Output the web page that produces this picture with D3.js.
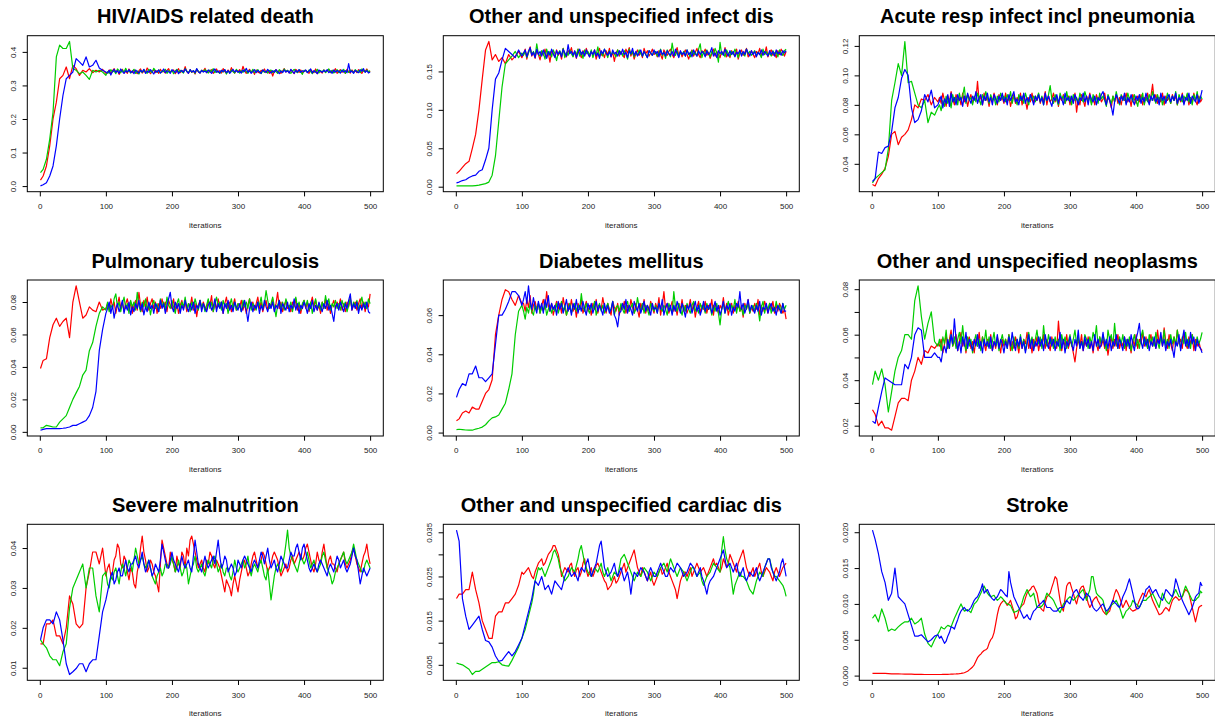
<!DOCTYPE html>
<html><head><meta charset="utf-8">
<script src="https://cdn.jsdelivr.net/npm/d3@7"></script>
<style>body{margin:0;background:#fff}svg{display:block}text{font-family:"Liberation Sans",Arial,Helvetica,sans-serif}</style>
</head><body>
<svg id="c" width="1215" height="721"></svg>
<script>
// iteration index of every stored draw: 1,5,...,100 then every 2.5 up to 500
const iterations = [1].concat(d3.range(5, 101, 5), d3.range(102.5, 500.1, 2.5));
const titles = ["HIV/AIDS related death","Other and unspecified infect dis","Acute resp infect incl pneumonia","Pulmonary tuberculosis","Diabetes mellitus","Other and unspecified neoplasms","Severe malnutrition","Other and unspecified cardiac dis","Stroke"];
const xTicks = [0,100,200,300,400,500];
const xLabel = "iterations";

// HIV/AIDS related death
const hivRed = [.018,.03,.06,.12,.2,.25,.32,.33,.355,.32,.36,.35,.33,.345,.34,.35,.338,.345,.34,.348,.336,
.338,.346,.335,.344,.350,.339,.345,.333,.341,.348,.337,.343,.336,.349,.342,.338,.346,.340,.335,.344,
.349,.337,.343,.339,.352,.345,.335,.341,.347,.338,.344,.336,.348,.340,.343,.337,.345,.350,.339,.342,
.346,.335,.342,.350,.338,.344,.340,.356,.341,.336,.347,.339,.343,.334,.348,.341,.337,.345,.343,.351,
.338,.345,.340,.347,.336,.342,.349,.339,.344,.337,.350,.341,.336,.346,.339,.353,.343,.337,.345,.341,
.347,.338,.357,.344,.336,.342,.348,.339,.344,.333,.346,.340,.337,.345,.341,.349,.338,.343,.336,.344,
.328,.342,.347,.339,.345,.336,.343,.350,.340,.345,.337,.346,.341,.335,.348,.343,.339,.346,.338,.342,
.345,.340,.336,.347,.342,.338,.349,.335,.344,.341,.337,.346,.340,.343,.348,.338,.345,.341,.350,.336,
.343,.347,.339,.344,.336,.348,.341,.337,.346,.340,.344,.338,.347,.341,.336,.345,.342,.349,.339,.343];
const hivGreen = [.04,.05,.08,.14,.22,.385,.42,.41,.41,.431,.35,.345,.335,.34,.33,.318,.345,.34,.345,.34,.33,
.341,.336,.347,.340,.343,.335,.349,.344,.338,.346,.339,.351,.340,.345,.337,.342,.348,.336,.343,.334,
.345,.339,.347,.341,.336,.348,.342,.338,.351,.344,.339,.346,.337,.343,.341,.348,.336,.344,.340,.345,
.335,.343,.348,.339,.345,.341,.337,.350,.342,.338,.346,.340,.344,.336,.349,.342,.338,.345,.341,.347,
.343,.337,.346,.341,.350,.338,.344,.340,.336,.345,.340,.347,.334,.343,.339,.346,.341,.337,.348,.342,
.337,.344,.339,.347,.342,.336,.345,.340,.348,.338,.343,.347,.340,.335,.346,.339,.343,.337,.344,.346,
.338,.344,.341,.336,.347,.343,.339,.349,.342,.345,.340,.336,.343,.348,.342,.338,.347,.340,.333,.345,
.344,.339,.346,.341,.335,.343,.340,.348,.337,.344,.341,.346,.338,.343,.349,.339,.345,.337,.342,.347,
.338,.345,.341,.348,.336,.344,.339,.346,.342,.338,.347,.341,.344,.338,.349,.343,.340,.346,.341,.344];
const hivBlue = [.0005,.004,.01,.03,.06,.12,.2,.27,.32,.33,.34,.38,.37,.36,.385,.355,.36,.375,.352,.345,.34,
.337,.345,.331,.342,.348,.339,.344,.336,.349,.341,.336,.344,.340,.347,.338,.343,.335,.346,.341,.337,
.345,.340,.348,.336,.343,.339,.347,.341,.334,.344,.340,.346,.337,.342,.349,.338,.344,.341,.336,.347,
.343,.338,.346,.335,.341,.345,.339,.349,.342,.336,.347,.340,.344,.338,.350,.341,.337,.345,.340,.343,
.338,.346,.341,.336,.344,.349,.339,.343,.337,.345,.341,.347,.338,.344,.336,.342,.348,.340,.345,.339,
.343,.337,.346,.341,.351,.339,.344,.336,.342,.347,.338,.345,.340,.336,.346,.342,.339,.348,.341,.337,
.344,.339,.347,.341,.335,.343,.338,.346,.340,.344,.337,.348,.342,.336,.345,.340,.347,.339,.344,.341,
.346,.338,.343,.349,.337,.344,.340,.335,.346,.342,.339,.345,.341,.347,.338,.343,.336,.346,.340,.344,
.342,.337,.346,.340,.344,.338,.365,.339,.343,.336,.345,.341,.338,.347,.342,.350,.339,.344,.337,.340];

// Other and unspecified infect dis
const infRed = [.017,.02,.025,.03,.033,.05,.068,.1,.14,.178,.189,.165,.172,.163,.168,.16,.172,.165,.17,.176,.168,
.172,.179,.166,.176,.182,.170,.175,.167,.178,.172,.165,.176,.171,.179,.168,.174,.162,.177,.173,.169,
.178,.171,.175,.166,.180,.172,.169,.177,.174,.181,.170,.176,.167,.179,.173,.168,.177,.171,.180,.174,
.169,.176,.172,.178,.166,.174,.180,.171,.175,.168,.177,.172,.180,.169,.175,.163,.174,.178,.170,.176,
.172,.168,.179,.174,.181,.170,.176,.166,.173,.178,.171,.175,.168,.180,.173,.177,.170,.174,.179,.172,
.175,.169,.177,.172,.166,.178,.174,.171,.176,.179,.172,.168,.175,.181,.171,.176,.169,.174,.178,.172,
.166,.173,.178,.170,.175,.180,.172,.168,.177,.174,.179,.171,.175,.167,.173,.179,.170,.176,.172,.168,
.176,.172,.181,.169,.174,.168,.177,.173,.170,.179,.166,.174,.178,.171,.175,.180,.169,.173,.177,.172,
.168,.176,.173,.180,.170,.177,.172,.182,.169,.175,.178,.171,.174,.168,.177,.172,.179,.175,.170,.176];
const infGreen = [.001,.001,.001,.001,.001,.001,.0015,.002,.003,.004,.006,.015,.04,.085,.13,.16,.165,.17,.176,.168,.174,
.171,.177,.168,.174,.180,.172,.176,.169,.186,.173,.170,.177,.174,.166,.179,.172,.176,.169,.178,.173,
.164,.174,.177,.170,.180,.168,.175,.171,.178,.173,.169,.176,.172,.179,.170,.175,.167,.178,.173,.176,
.171,.178,.168,.175,.172,.182,.169,.176,.170,.179,.174,.168,.177,.171,.175,.173,.169,.178,.172,.176,
.170,.177,.173,.166,.179,.172,.176,.169,.175,.171,.178,.173,.170,.176,.172,.168,.177,.174,.171,.175,
.176,.170,.174,.179,.171,.175,.167,.178,.173,.169,.187,.174,.171,.177,.169,.175,.172,.176,.170,.178,
.173,.169,.177,.172,.175,.170,.179,.186,.168,.176,.171,.178,.173,.169,.176,.172,.180,.174,.162,.188,
.172,.175,.169,.178,.173,.170,.176,.172,.179,.174,.168,.177,.172,.175,.170,.179,.173,.176,.171,.174,
.177,.170,.175,.173,.168,.179,.172,.176,.171,.174,.170,.177,.173,.175,.169,.178,.174,.171,.177,.179];
const infBlue = [.005,.006,.008,.009,.012,.014,.015,.02,.022,.035,.05,.1,.14,.148,.165,.18,.176,.172,.168,.178,.17,
.174,.178,.169,.176,.181,.171,.175,.168,.179,.172,.176,.170,.178,.173,.167,.176,.171,.179,.173,.168,
.177,.172,.176,.169,.179,.174,.170,.185,.173,.176,.171,.177,.168,.174,.179,.172,.176,.170,.178,.173,
.169,.176,.172,.178,.170,.174,.167,.177,.173,.179,.174,.171,.176,.169,.178,.173,.175,.170,.177,.172,
.179,.172,.175,.168,.177,.173,.180,.171,.176,.170,.174,.178,.170,.176,.172,.168,.177,.174,.171,.178,
.173,.176,.169,.178,.172,.175,.170,.177,.173,.171,.176,.170,.179,.174,.168,.177,.172,.175,.170,.178,
.172,.175,.169,.178,.173,.170,.177,.172,.176,.174,.169,.177,.172,.175,.181,.170,.174,.168,.177,.173,
.176,.171,.179,.174,.170,.177,.172,.176,.169,.175,.173,.178,.170,.176,.172,.179,.174,.170,.177,.172,
.176,.169,.175,.172,.178,.171,.176,.173,.170,.177,.172,.176,.170,.178,.173,.175,.171,.177,.174,.177];

// Acute resp infect incl pneumonia
const arRed = [.026,.025,.03,.033,.037,.045,.06,.062,.053,.058,.06,.063,.07,.08,.078,.084,.083,.087,.08,.085,.082,
.085,.081,.088,.083,.079,.086,.082,.089,.084,.080,.087,.083,.085,.080,.088,.082,.086,.079,.084,.087,
.081,.085,.083,.096,.082,.086,.080,.088,.083,.085,.079,.086,.082,.088,.084,.080,.087,.083,.085,.081,
.088,.082,.086,.079,.084,.087,.081,.085,.083,.088,.080,.086,.083,.077,.085,.082,.088,.081,.086,.083,
.087,.081,.085,.083,.089,.080,.086,.082,.084,.088,.082,.086,.079,.085,.083,.087,.081,.084,.086,.080,
.085,.082,.088,.075,.084,.080,.087,.083,.079,.086,.083,.088,.081,.085,.080,.087,.083,.086,.082,.084,
.088,.081,.085,.083,.078,.086,.082,.087,.081,.085,.080,.086,.083,.088,.082,.085,.079,.087,.084,.081,
.086,.082,.087,.080,.085,.083,.088,.081,.086,.094,.083,.087,.081,.085,.082,.088,.080,.086,.083,.085,
.081,.087,.083,.086,.080,.085,.082,.088,.081,.084,.087,.080,.085,.082,.088,.083,.080,.086,.082,.084];
const arGreen = [.027,.03,.032,.034,.036,.05,.083,.095,.108,.1,.123,.095,.096,.088,.08,.078,.083,.068,.075,.073,.078,
.080,.076,.083,.079,.086,.081,.084,.078,.087,.082,.085,.080,.088,.083,.086,.092,.081,.087,.083,.085,
.080,.086,.082,.088,.084,.080,.087,.083,.089,.085,.081,.087,.083,.085,.080,.086,.082,.088,.084,.086,
.082,.087,.083,.089,.081,.086,.084,.080,.087,.083,.086,.081,.088,.084,.080,.087,.083,.086,.082,.085,
.088,.082,.086,.080,.085,.083,.087,.093,.084,.081,.087,.083,.080,.088,.084,.086,.081,.089,.083,.086,
.080,.087,.083,.085,.081,.088,.084,.082,.089,.085,.082,.086,.080,.087,.083,.085,.081,.088,.084,.086,
.083,.079,.087,.084,.081,.086,.082,.089,.084,.080,.087,.083,.085,.081,.088,.084,.086,.082,.087,.083,
.079,.086,.083,.088,.080,.085,.082,.087,.083,.089,.084,.081,.087,.083,.086,.080,.085,.082,.088,.084,
.081,.086,.083,.089,.080,.087,.084,.082,.086,.083,.088,.082,.085,.080,.087,.083,.089,.082,.086,.084];
const arBlue = [.028,.03,.048,.047,.051,.052,.062,.078,.085,.098,.104,.1,.078,.068,.07,.076,.087,.082,.09,.078,.08,
.083,.086,.078,.084,.081,.087,.079,.088,.082,.085,.080,.087,.083,.085,.079,.086,.082,.088,.084,.081,
.086,.083,.089,.081,.085,.087,.080,.086,.083,.088,.082,.085,.080,.087,.084,.081,.086,.083,.088,.082,
.085,.080,.087,.083,.086,.089,.082,.084,.080,.086,.083,.088,.081,.085,.082,.087,.084,.080,.086,.083,
.087,.082,.085,.080,.088,.083,.086,.082,.079,.085,.083,.087,.081,.086,.084,.080,.088,.083,.085,.082,
.086,.081,.087,.084,.080,.085,.083,.088,.082,.086,.080,.087,.084,.082,.086,.080,.085,.083,.087,.089,
.084,.080,.086,.083,.079,.073,.082,.087,.084,.081,.086,.083,.088,.080,.085,.082,.087,.083,.080,.086,
.083,.087,.081,.085,.082,.088,.084,.080,.086,.083,.087,.082,.085,.080,.088,.083,.086,.081,.085,.087,
.082,.086,.083,.088,.081,.085,.083,.087,.080,.085,.083,.088,.081,.086,.084,.082,.087,.081,.085,.090];

// Pulmonary tuberculosis
const tbRed = [.039,.044,.045,.058,.066,.07,.065,.068,.07,.058,.08,.09,.08,.07,.072,.077,.075,.074,.08,.075,.076,
.079,.075,.082,.077,.080,.073,.078,.083,.076,.080,.074,.079,.082,.076,.080,.073,.078,.081,.075,.086,
.078,.074,.081,.077,.083,.075,.079,.082,.076,.080,.073,.079,.076,.082,.077,.080,.074,.081,.078,.076,
.082,.075,.079,.073,.078,.081,.076,.080,.074,.079,.077,.083,.075,.079,.071,.078,.081,.076,.080,.077,
.075,.081,.078,.084,.074,.079,.076,.082,.077,.080,.073,.079,.083,.076,.080,.074,.078,.082,.075,.079,
.077,.081,.075,.079,.073,.078,.082,.076,.080,.075,.079,.083,.076,.080,.074,.078,.081,.075,.079,.077,
.082,.075,.079,.086,.076,.080,.074,.078,.081,.076,.078,.074,.080,.077,.082,.075,.079,.073,.078,.081,
.076,.080,.074,.079,.083,.077,.081,.075,.078,.073,.080,.076,.082,.075,.079,.073,.078,.081,.076,.080,
.077,.082,.075,.079,.074,.080,.077,.083,.075,.078,.080,.075,.079,.082,.076,.080,.074,.079,.077,.085];
const tbGreen = [.0025,.0025,.004,.0035,.003,.003,.006,.008,.01,.015,.02,.024,.028,.035,.038,.05,.055,.065,.073,.077,.075,
.080,.074,.078,.076,.082,.085,.077,.080,.074,.079,.083,.076,.079,.073,.081,.077,.080,.075,.086,.078,
.074,.080,.077,.082,.075,.079,.072,.078,.081,.076,.079,.074,.082,.077,.080,.075,.083,.078,.076,.081,
.077,.073,.079,.082,.075,.080,.077,.083,.076,.079,.074,.080,.076,.082,.078,.075,.081,.077,.079,.074,
.078,.082,.076,.080,.074,.079,.083,.077,.080,.075,.081,.077,.079,.073,.078,.082,.076,.080,.075,.079,
.078,.074,.081,.077,.080,.076,.082,.075,.079,.077,.075,.080,.078,.083,.076,.079,.087,.081,.076,.079,
.083,.077,.071,.078,.081,.076,.080,.075,.082,.078,.076,.080,.074,.079,.083,.077,.080,.075,.079,.081,
.077,.081,.075,.080,.073,.078,.082,.076,.079,.075,.080,.076,.084,.078,.082,.075,.079,.077,.081,.076,
.079,.075,.081,.077,.080,.074,.078,.082,.076,.080,.077,.081,.075,.079,.083,.077,.080,.076,.082,.079];
const tbBlue = [.001,.0015,.002,.002,.002,.002,.002,.0022,.0025,.003,.004,.004,.005,.006,.007,.01,.015,.025,.05,.063,.073,
.076,.080,.073,.078,.070,.076,.079,.074,.077,.081,.073,.078,.075,.080,.072,.077,.074,.079,.076,.081,
.075,.079,.072,.077,.074,.080,.076,.078,.073,.079,.077,.074,.081,.076,.079,.073,.078,.082,.086,.077,
.074,.080,.076,.079,.073,.078,.075,.081,.077,.074,.079,.075,.080,.073,.078,.076,.081,.074,.079,.076,
.074,.078,.080,.075,.077,.082,.074,.079,.076,.080,.073,.079,.076,.081,.075,.078,.074,.080,.077,.075,
.079,.074,.077,.081,.075,.068,.076,.080,.074,.078,.076,.080,.073,.078,.075,.081,.077,.074,.079,.076,
.080,.074,.078,.076,.081,.073,.079,.077,.075,.080,.074,.078,.076,.082,.075,.079,.073,.078,.076,.080,
.077,.073,.079,.076,.081,.074,.078,.075,.080,.077,.074,.079,.076,.081,.075,.078,.073,.068,.077,.079,
.075,.080,.077,.074,.079,.076,.081,.085,.075,.079,.076,.080,.073,.078,.075,.079,.076,.080,.074,.073];

// Diabetes mellitus
const dmRed = [.006,.007,.01,.011,.01,.013,.012,.012,.016,.02,.022,.027,.05,.06,.068,.073,.072,.068,.065,.07,.066,
.066,.062,.068,.064,.070,.061,.065,.067,.063,.066,.061,.065,.068,.063,.072,.065,.062,.066,.060,.064,
.067,.063,.066,.061,.069,.064,.060,.066,.063,.068,.062,.065,.059,.066,.063,.068,.061,.064,.067,.062,
.065,.060,.066,.063,.068,.061,.065,.063,.069,.064,.061,.066,.063,.060,.067,.064,.062,.066,.060,.065,
.063,.067,.061,.065,.062,.068,.064,.061,.066,.063,.059,.066,.063,.068,.061,.065,.062,.067,.064,.061,
.066,.063,.069,.060,.065,.072,.063,.066,.061,.064,.067,.062,.065,.060,.066,.063,.068,.062,.065,.061,
.064,.068,.062,.066,.059,.064,.067,.061,.065,.063,.067,.061,.065,.063,.068,.060,.066,.064,.061,.065,
.063,.069,.062,.066,.060,.064,.066,.061,.065,.063,.067,.062,.065,.059,.066,.063,.068,.061,.064,.062,
.066,.063,.068,.060,.065,.062,.067,.064,.061,.066,.063,.067,.061,.065,.062,.066,.064,.061,.063,.058];
const dmGreen = [.0015,.0017,.0015,.0013,.0012,.0012,.0018,.0022,.0028,.004,.006,.0075,.008,.009,.012,.015,.022,.03,.05,.062,.065,
.062,.058,.064,.061,.066,.062,.060,.065,.063,.066,.061,.064,.062,.066,.060,.063,.065,.061,.064,.062,
.066,.061,.064,.067,.062,.065,.060,.063,.066,.061,.064,.066,.062,.065,.063,.071,.064,.062,.066,.063,
.061,.065,.063,.067,.060,.064,.066,.062,.065,.061,.064,.066,.062,.063,.067,.060,.064,.065,.062,.066,
.063,.061,.065,.067,.062,.064,.066,.061,.063,.069,.064,.062,.066,.061,.065,.063,.060,.066,.064,.062,
.065,.061,.066,.064,.062,.065,.063,.060,.066,.063,.061,.072,.064,.062,.066,.063,.060,.065,.062,.066,
.063,.061,.065,.067,.062,.064,.061,.066,.063,.065,.061,.066,.063,.064,.060,.065,.062,.066,.061,.055,
.063,.066,.061,.064,.067,.062,.065,.063,.068,.061,.066,.062,.064,.060,.065,.063,.066,.061,.064,.065,
.062,.066,.063,.057,.064,.067,.061,.065,.063,.066,.061,.064,.062,.067,.063,.065,.061,.066,.063,.065];
const dmBlue = [.018,.022,.025,.024,.03,.03,.034,.028,.028,.026,.028,.03,.045,.06,.06,.063,.067,.072,.072,.07,.065,
.068,.072,.066,.075,.067,.063,.069,.064,.061,.067,.063,.066,.061,.068,.064,.070,.062,.066,.063,.065,
.060,.067,.063,.066,.061,.064,.068,.062,.065,.060,.066,.063,.068,.061,.065,.062,.067,.063,.060,.066,
.063,.066,.061,.064,.067,.062,.065,.063,.060,.066,.062,.065,.061,.063,.067,.060,.058,.054,.061,.062,
.066,.063,.068,.061,.065,.063,.060,.067,.064,.062,.066,.061,.064,.067,.062,.065,.063,.060,.066,.063,
.064,.061,.066,.063,.068,.060,.064,.066,.062,.065,.060,.065,.062,.067,.064,.061,.066,.063,.059,.065,
.063,.066,.061,.064,.067,.062,.065,.060,.063,.067,.062,.065,.063,.066,.061,.064,.067,.062,.065,.060,
.063,.067,.061,.065,.063,.066,.060,.064,.062,.066,.064,.072,.063,.066,.061,.064,.068,.062,.065,.063,
.061,.065,.062,.067,.060,.064,.063,.066,.061,.064,.066,.062,.064,.060,.065,.063,.061,.066,.062,.062];

// Other and unspecified neoplasms
const neoRed = [.027,.025,.02,.022,.019,.019,.018,.024,.03,.032,.032,.031,.04,.044,.05,.047,.053,.052,.055,.054,.056,
.055,.058,.052,.056,.060,.054,.058,.062,.055,.057,.060,.053,.057,.061,.055,.058,.052,.057,.059,.054,
.057,.052,.058,.055,.061,.054,.059,.056,.053,.058,.055,.060,.053,.057,.054,.059,.056,.052,.058,.055,
.058,.055,.060,.053,.057,.054,.059,.056,.052,.058,.054,.058,.056,.061,.054,.057,.052,.058,.055,.059,
.053,.057,.055,.060,.054,.058,.056,.053,.059,.055,.058,.054,.066,.057,.053,.058,.055,.060,.054,.057,
.056,.052,.048,.054,.058,.055,.060,.053,.057,.055,.059,.054,.057,.052,.058,.056,.053,.059,.055,.058,
.054,.057,.051,.056,.059,.054,.058,.055,.060,.054,.057,.055,.059,.053,.058,.056,.052,.058,.055,.060,
.054,.058,.056,.061,.055,.059,.054,.057,.060,.055,.058,.054,.062,.056,.059,.055,.063,.057,.054,.060,
.056,.053,.059,.055,.062,.056,.058,.054,.061,.056,.054,.059,.056,.060,.053,.058,.055,.057,.054,.053];
const neoGreen = [.038,.044,.04,.045,.038,.026,.035,.044,.05,.053,.06,.06,.058,.075,.0815,.068,.058,.065,.07,.057,.055,
.058,.053,.059,.056,.062,.054,.057,.060,.055,.059,.054,.058,.061,.056,.064,.057,.053,.059,.055,.058,
.052,.057,.060,.055,.058,.053,.059,.056,.062,.055,.059,.054,.057,.061,.055,.058,.053,.057,.060,.056,
.058,.054,.060,.056,.053,.059,.055,.058,.054,.060,.055,.058,.053,.057,.061,.056,.059,.054,.058,.062,
.056,.059,.054,.064,.057,.055,.060,.056,.058,.054,.059,.055,.058,.053,.060,.056,.059,.054,.057,.060,
.055,.058,.062,.056,.059,.054,.057,.055,.060,.058,.054,.059,.056,.061,.058,.064,.055,.059,.056,.060,
.057,.053,.062,.058,.060,.055,.065,.057,.054,.059,.056,.060,.054,.058,.055,.059,.053,.057,.060,.055,
.058,.054,.059,.062,.056,.058,.054,.060,.056,.059,.055,.061,.057,.054,.059,.056,.062,.055,.058,.054,
.060,.056,.059,.055,.062,.057,.054,.059,.056,.061,.055,.058,.054,.060,.057,.055,.059,.056,.058,.061];
const neoBlue = [.022,.021,.028,.035,.041,.04,.039,.038,.038,.038,.047,.045,.05,.06,.063,.062,.05,.05,.05,.052,.05,
.050,.048,.053,.055,.052,.058,.054,.060,.056,.067,.058,.053,.057,.052,.059,.055,.061,.054,.058,.056,
.053,.058,.055,.060,.054,.057,.052,.058,.055,.057,.054,.059,.053,.057,.055,.060,.054,.058,.056,.052,
.057,.054,.059,.055,.061,.056,.053,.058,.055,.059,.054,.057,.052,.056,.060,.054,.058,.053,.057,.055,
.059,.055,.058,.053,.060,.056,.054,.059,.055,.058,.053,.057,.055,.061,.054,.058,.052,.057,.055,.059,
.056,.053,.058,.055,.062,.054,.057,.053,.059,.055,.058,.054,.057,.053,.060,.055,.058,.054,.056,.061,
.055,.058,.054,.059,.053,.057,.055,.060,.054,.058,.056,.053,.059,.055,.058,.054,.060,.056,.053,.058,
.061,.065,.057,.054,.059,.055,.058,.053,.057,.055,.059,.054,.058,.056,.061,.055,.058,.053,.057,.055,
.058,.054,.050,.057,.055,.060,.053,.058,.062,.055,.058,.054,.061,.056,.059,.053,.058,.055,.054,.052];

// Severe malnutrition
const smRed = [.016,.016,.021,.021,.022,.018,.018,.016,.02,.028,.026,.021,.02,.021,.03,.034,.039,.039,.036,.04,.033,
.035,.036,.033,.034,.037,.038,.041,.040,.036,.035,.038,.037,.034,.032,.035,.034,.031,.030,.034,.036,
.040,.043,.039,.037,.034,.035,.037,.036,.034,.033,.031,.029,.036,.042,.040,.038,.036,.035,.039,.037,
.036,.034,.038,.036,.035,.039,.038,.035,.040,.038,.042,.043,.041,.039,.037,.035,.036,.037,.035,.034,
.037,.036,.039,.038,.036,.035,.037,.036,.035,.033,.031,.029,.032,.031,.030,.028,.031,.033,.031,.029,
.032,.034,.036,.037,.035,.033,.034,.036,.038,.039,.037,.035,.036,.037,.039,.038,.036,.034,.035,.036,
.038,.039,.038,.037,.035,.033,.034,.035,.036,.034,.035,.037,.038,.036,.037,.038,.039,.038,.037,.038,
.040,.041,.039,.037,.035,.034,.036,.039,.037,.036,.039,.041,.038,.035,.037,.038,.036,.036,.035,.034,
.036,.037,.038,.039,.036,.035,.036,.037,.039,.040,.038,.036,.035,.034,.036,.038,.039,.041,.038,.036];
const smGreen = [.017,.016,.015,.013,.012,.012,.0105,.014,.016,.025,.03,.032,.034,.036,.03,.035,.035,.028,.024,.033,.034,
.031,.030,.033,.032,.034,.035,.033,.031,.034,.036,.035,.033,.035,.037,.036,.034,.037,.040,.038,.036,
.037,.038,.036,.035,.036,.037,.035,.033,.032,.031,.033,.034,.035,.033,.034,.036,.036,.035,.036,.038,
.036,.034,.035,.037,.035,.033,.034,.036,.035,.031,.033,.035,.036,.038,.035,.034,.035,.036,.034,.033,
.035,.037,.036,.035,.037,.038,.036,.034,.035,.036,.034,.033,.035,.035,.033,.032,.034,.037,.035,.034,
.035,.036,.037,.035,.036,.038,.035,.033,.035,.036,.035,.034,.036,.037,.035,.033,.032,.035,.031,.027,
.030,.033,.035,.036,.035,.034,.036,.038,.041,.0445,.040,.038,.037,.036,.035,.034,.036,.038,.037,.036,
.037,.039,.037,.035,.036,.037,.035,.034,.035,.036,.038,.039,.037,.035,.034,.033,.031,.032,.034,.035,
.036,.037,.038,.039,.037,.036,.037,.038,.039,.041,.039,.037,.036,.035,.034,.034,.036,.037,.036,.035];
const smBlue = [.017,.02,.022,.022,.021,.024,.022,.017,.011,.0083,.009,.0098,.011,.011,.009,.011,.012,.012,.018,.024,.027,
.029,.031,.033,.034,.031,.032,.034,.035,.033,.033,.035,.037,.035,.034,.036,.036,.037,.038,.036,.035,
.037,.039,.036,.034,.035,.037,.035,.033,.034,.036,.035,.034,.037,.041,.039,.037,.035,.035,.037,.039,
.037,.036,.035,.034,.036,.038,.036,.035,.036,.037,.035,.034,.038,.042,.039,.036,.035,.034,.036,.038,
.036,.035,.036,.037,.038,.036,.039,.042,.038,.035,.036,.038,.037,.034,.035,.036,.035,.033,.034,.037,
.036,.035,.037,.038,.037,.036,.035,.034,.036,.037,.036,.035,.037,.039,.038,.036,.038,.040,.037,.035,
.036,.037,.035,.034,.036,.038,.037,.036,.035,.035,.037,.039,.038,.038,.040,.041,.039,.037,.040,.041,
.039,.037,.035,.034,.035,.036,.035,.034,.036,.037,.036,.035,.034,.033,.035,.036,.035,.034,.036,.038,
.037,.035,.036,.037,.035,.034,.035,.036,.038,.040,.038,.037,.034,.031,.033,.035,.034,.033,.034,.035];

// Other and unspecified cardiac dis
const cdRed = [.02,.021,.021,.022,.022,.026,.022,.019,.015,.013,.011,.011,.016,.017,.017,.019,.019,.02,.021,.023,.026,
.0255,.026,.0265,.027,.026,.025,.0245,.026,.027,.028,.0285,.029,.0275,.028,.029,.030,.0305,.031,.032,.032,
.031,.030,.028,.025,.026,.027,.0265,.026,.0275,.028,.026,.025,.0265,.027,.025,.026,.028,.029,.0265,.025,
.026,.027,.025,.026,.0275,.028,.027,.026,.025,.024,.0235,.022,.0225,.023,.024,.025,.0235,.024,.025,.026,
.027,.028,.026,.027,.028,.029,.030,.031,.029,.027,.026,.025,.027,.026,.025,.024,.025,.026,.024,.023,
.024,.025,.026,.027,.0255,.026,.027,.028,.026,.025,.024,.023,.022,.020,.022,.024,.025,.026,.026,.025,
.026,.027,.025,.026,.027,.028,.027,.026,.0265,.027,.026,.025,.026,.027,.028,.029,.0275,.028,.027,.026,
.027,.029,.028,.027,.028,.030,.029,.028,.027,.026,.028,.029,.030,.031,.029,.027,.026,.025,.026,.027,
.025,.026,.027,.028,.026,.025,.026,.027,.0265,.026,.025,.024,.026,.027,.026,.025,.026,.027,.0275,.028];
const cdGreen = [.0054,.0052,.005,.0045,.004,.0028,.0035,.0035,.004,.0045,.005,.0055,.0055,.0057,.005,.0048,.0047,.006,.0075,.009,.011,
.012,.013,.0145,.016,.0175,.019,.021,.024,.0255,.027,.0265,.027,.026,.025,.026,.027,.028,.029,.0305,.031,
.030,.029,.027,.026,.025,.024,.0245,.025,.026,.027,.0265,.026,.0275,.029,.031,.032,.030,.028,.027,.026,
.0255,.025,.026,.027,.0265,.026,.027,.028,.026,.025,.026,.027,.0255,.024,.025,.026,.0255,.025,.027,.029,
.0295,.030,.029,.028,.027,.026,.025,.024,.025,.026,.0255,.025,.026,.027,.0265,.026,.025,.024,.025,.026,
.0255,.025,.026,.027,.0275,.028,.027,.026,.0275,.029,.028,.027,.026,.025,.026,.027,.0265,.026,.025,.024,
.025,.026,.027,.027,.026,.025,.0255,.026,.024,.023,.024,.025,.0255,.026,.027,.028,.0275,.027,.0265,.026,
.031,.034,.031,.029,.028,.027,.024,.021,.023,.024,.025,.026,.025,.025,.0245,.024,.023,.022,.0215,.021,
.0225,.024,.025,.026,.0255,.025,.027,.028,.029,.029,.0275,.026,.025,.025,.0245,.024,.0235,.023,.022,.0205];
const cdBlue = [.0355,.033,.02,.016,.013,.014,.015,.016,.013,.0105,.0102,.009,.007,.0058,.006,.007,.008,.007,.008,.0095,.011,
.0125,.014,.0155,.017,.0185,.020,.022,.024,.0235,.023,.024,.025,.0235,.022,.0225,.023,.022,.021,.0225,.024,
.0235,.023,.0225,.022,.0235,.025,.026,.027,.026,.025,.0255,.026,.025,.024,.026,.027,.0265,.026,.028,.029,
.027,.025,.026,.027,.028,.030,.032,.033,.030,.027,.026,.025,.0255,.026,.027,.028,.026,.025,.026,.027,
.0255,.024,.025,.026,.024,.021,.024,.026,.0255,.025,.026,.027,.0265,.026,.025,.024,.026,.027,.026,.025,
.025,.026,.027,.028,.027,.026,.025,.025,.026,.027,.0265,.026,.027,.028,.0275,.027,.026,.025,.0255,.026,
.027,.028,.0275,.027,.026,.025,.026,.027,.025,.024,.0225,.021,.023,.024,.0245,.025,.026,.027,.028,.029,
.030,.031,.029,.027,.0275,.028,.027,.026,.027,.028,.026,.025,.026,.027,.025,.024,.025,.026,.0255,.025,
.026,.027,.025,.024,.025,.026,.027,.028,.029,.029,.027,.026,.025,.024,.025,.026,.028,.029,.027,.025];

// Stroke
const stRed = [.0003,.0003,.0003,.0003,.0003,.00028,.00025,.00025,.00025,.00022,.0002,.0002,.0002,.00018,.00017,.00016,.00015,.00015,.00015,.00015,.00015,
.00015,.00015,.00016,.00016,.00017,.00018,.00019,.0002,.00021,.00022,.00023,.00025,.00027,.0003,.00035,.0004,.0005,.0006,.0008,.001,
.0012,.0015,.002,.0025,.0028,.003,.0033,.0035,.0036,.0038,.0045,.005,.0053,.006,.0072,.0085,.0095,.01,.0103,.0105,
.0102,.0098,.0101,.0105,.0097,.009,.0079,.0082,.009,.0095,.0098,.01,.0108,.0115,.0118,.012,.0124,.0125,.012,.0115,
.0103,.0095,.0092,.009,.0102,.011,.0112,.0115,.0123,.013,.0138,.0135,.012,.0105,.0095,.009,.0108,.0125,.0129,.013,
.0122,.0115,.0106,.01,.011,.012,.0124,.0125,.0118,.011,.0101,.0095,.0099,.0105,.0108,.011,.0104,.01,.0095,.009,
.0087,.0085,.0088,.009,.0098,.0105,.0114,.012,.0116,.011,.0102,.0095,.01,.0105,.01,.0095,.0092,.009,.0091,.0092,
.0099,.0105,.011,.0115,.0113,.011,.0116,.012,.0112,.0105,.01,.0095,.009,.0085,.0086,.0088,.0092,.0095,.0093,.009,
.0098,.0105,.0108,.011,.0108,.0105,.0107,.011,.0116,.012,.0118,.0115,.0105,.0095,.0085,.0075,.0085,.0095,.0097,.0098];
const stGreen = [.008,.0085,.0075,.0093,.008,.0062,.0065,.0063,.0068,.0072,.0075,.0075,.008,.0072,.0075,.008,.0058,.0045,.004,.005,.0058,
.0062,.0068,.0066,.0065,.0068,.007,.0069,.0068,.0074,.008,.0085,.009,.0095,.01,.0095,.009,.0091,.0092,.009,.0088,
.0094,.01,.0102,.0105,.011,.0115,.012,.0125,.012,.0115,.0112,.011,.0111,.0112,.0108,.0105,.0107,.011,.0108,.0105,
.0102,.01,.0099,.0098,.0093,.0088,.0089,.009,.0092,.0095,.0102,.011,.0115,.012,.0115,.011,.0112,.0115,.0105,.0095,
.0095,.0095,.0097,.01,.0108,.0115,.0112,.011,.0108,.0105,.01,.0095,.0091,.0088,.0094,.01,.0102,.0105,.0108,.011,
.0108,.0105,.0107,.011,.0113,.0115,.0118,.012,.0112,.0105,.0113,.012,.0138,.0138,.0125,.0115,.0112,.011,.0108,.0105,
.0095,.0085,.009,.0095,.0098,.01,.0102,.0105,.01,.0095,.0088,.008,.0085,.009,.0092,.0095,.0098,.0105,.0102,.01,
.0098,.0095,.01,.0105,.0105,.0105,.0108,.011,.0112,.0115,.011,.0105,.01,.0095,.0105,.0115,.011,.0105,.0102,.01,
.0105,.011,.0115,.012,.0115,.011,.011,.011,.0118,.0125,.012,.0115,.011,.0105,.0105,.0105,.0108,.011,.0118,.0115];
const stBlue = [.0203,.019,.017,.0145,.013,.0105,.0115,.015,.011,.0105,.01,.0085,.007,.0055,.0055,.0057,.0052,.0047,.005,.0055,.0057,
.0052,.0055,.005,.0045,.0048,.0055,.006,.0068,.0067,.0065,.0072,.0078,.0085,.009,.0093,.0095,.0092,.009,.0092,.0095,
.01,.0105,.0108,.011,.0115,.012,.0128,.0115,.0118,.012,.0115,.011,.0107,.0105,.0108,.011,.0115,.012,.0118,.0115,
.0112,.011,.0145,.013,.012,.011,.0105,.01,.0095,.009,.0085,.008,.0082,.0085,.008,.0078,.0085,.009,.0092,.0095,
.0098,.01,.0102,.0105,.01,.0095,.0095,.0095,.0092,.009,.009,.009,.0093,.0095,.0095,.0095,.01,.0105,.0102,.01,
.0108,.0115,.0118,.012,.0115,.011,.0108,.0105,.011,.0115,.0112,.011,.0102,.0095,.0092,.009,.0092,.0095,.0098,.01,
.0095,.009,.0092,.0095,.01,.0105,.0102,.01,.0097,.0095,.0102,.011,.0115,.012,.0128,.0135,.0125,.0115,.0105,.0095,
.0093,.0095,.01,.0105,.0112,.012,.0122,.0125,.012,.0115,.0118,.012,.0115,.011,.0107,.0105,.0112,.012,.0118,.0115,
.0112,.011,.012,.0135,.0128,.012,.0112,.0105,.01,.0095,.009,.0085,.009,.0095,.0102,.011,.0113,.0115,.013,.0125];

// y-axis ticks and their labels ("" = tick without label, as R drops overlapping labels)
const yTicksHIV = [0,0.1,0.2,0.3,0.4], yLabelsHIV = ["0.0","0.1","0.2","0.3","0.4"];
const yTicksInf = [0,0.05,0.1,0.15], yLabelsInf = ["0.00","0.05","0.10","0.15"];
const yTicksAR = [0.04,0.06,0.08,0.1,0.12], yLabelsAR = ["0.04","0.06","0.08","0.10","0.12"];
const yTicksTB = [0,0.02,0.04,0.06,0.08], yLabelsTB = ["0.00","0.02","0.04","0.06","0.08"];
const yTicksDM = [0,0.02,0.04,0.06], yLabelsDM = ["0.00","0.02","0.04","0.06"];
const yTicksNeo = [0.02,0.03,0.04,0.05,0.06,0.07,0.08], yLabelsNeo = ["0.02","","0.04","","0.06","","0.08"];
const yTicksSM = [0.01,0.02,0.03,0.04], yLabelsSM = ["0.01","0.02","0.03","0.04"];
const yTicksCD = [0.005,0.01,0.015,0.02,0.025,0.03,0.035], yLabelsCD = ["0.005","","0.015","","0.025","","0.035"];
const yTicksST = [0,0.005,0.01,0.015,0.02], yLabelsST = ["0.000","0.005","0.010","0.015","0.020"];

const panels = [
  {chains:[hivRed,hivGreen,hivBlue], ticks:yTicksHIV, labels:yLabelsHIV},
  {chains:[infRed,infGreen,infBlue], ticks:yTicksInf, labels:yLabelsInf},
  {chains:[arRed,arGreen,arBlue], ticks:yTicksAR, labels:yLabelsAR},
  {chains:[tbRed,tbGreen,tbBlue], ticks:yTicksTB, labels:yLabelsTB},
  {chains:[dmRed,dmGreen,dmBlue], ticks:yTicksDM, labels:yLabelsDM},
  {chains:[neoRed,neoGreen,neoBlue], ticks:yTicksNeo, labels:yLabelsNeo},
  {chains:[smRed,smGreen,smBlue], ticks:yTicksSM, labels:yLabelsSM},
  {chains:[cdRed,cdGreen,cdBlue], ticks:yTicksCD, labels:yLabelsCD},
  {chains:[stRed,stGreen,stBlue], ticks:yTicksST, labels:yLabelsST}
];

const chainColors = ["#FF0000","#00CD00","#0000FF"];
const colLeft = [27.3,443.3,859.3], rowTop = [35.7,280,524.3], W = 356, H = 156;
const svg = d3.select("#c");

panels.forEach((p, i) => {
  const g = svg.append("g").attr("transform", `translate(${colLeft[i%3]},${rowTop[Math.floor(i/3)]})`);
  const n = iterations.length;
  const xMin = d3.min(iterations), xMax = d3.max(iterations), xPad = 0.04*(xMax-xMin);
  const x = d3.scaleLinear().domain([xMin-xPad, xMax+xPad]).range([0, W]);
  const all = p.chains.flat();
  const yMin = d3.min(all), yMax = d3.max(all), yPad = 0.04*(yMax-yMin);
  const y = d3.scaleLinear().domain([yMin-yPad, yMax+yPad]).range([H, 0]);
  const line = d3.line().x((d, j) => x(iterations[j])).y(d => y(d));
  p.chains.forEach((c, k) => {
    if (c.length !== n) console.warn("chain length", i, k, c.length);
    g.append("path").attr("d", line(c.slice(0, n))).attr("fill","none")
      .attr("stroke", chainColors[k]).attr("stroke-width", 1.2).attr("stroke-linejoin","round");
  });
  g.append("rect").attr("x",0).attr("y",0).attr("width",W).attr("height",H)
    .attr("fill","none").attr("stroke","#000").attr("stroke-width",1);

  const xa = g.append("g").attr("transform", `translate(0,${H})`)
    .call(d3.axisBottom(x).tickValues(xTicks).tickSize(4.7).tickPadding(7.1).tickFormat(d3.format("d")));
  xa.select(".domain").remove();
  xa.selectAll("text").attr("font-size", 8).attr("fill", "#222");

  const ya = g.append("g")
    .call(d3.axisLeft(y).tickValues(p.ticks).tickSize(4.7).tickFormat((d, j) => p.labels[j]));
  ya.select(".domain").remove();
  ya.selectAll("text").attr("transform","rotate(-90)").attr("x",0).attr("y",-11.4)
    .attr("dy",null).attr("text-anchor","middle").attr("font-size",8).attr("fill","#222");

  g.append("text").attr("x", W/2).attr("y", H+36).attr("text-anchor","middle")
    .attr("font-size", 8).attr("fill","#222").text(xLabel);
  g.append("text").attr("x", W/2).attr("y", -12.3).attr("text-anchor","middle")
    .attr("font-size", 20).attr("font-weight","bold").attr("fill","#000").text(titles[i]);
});
</script>
</body></html>
